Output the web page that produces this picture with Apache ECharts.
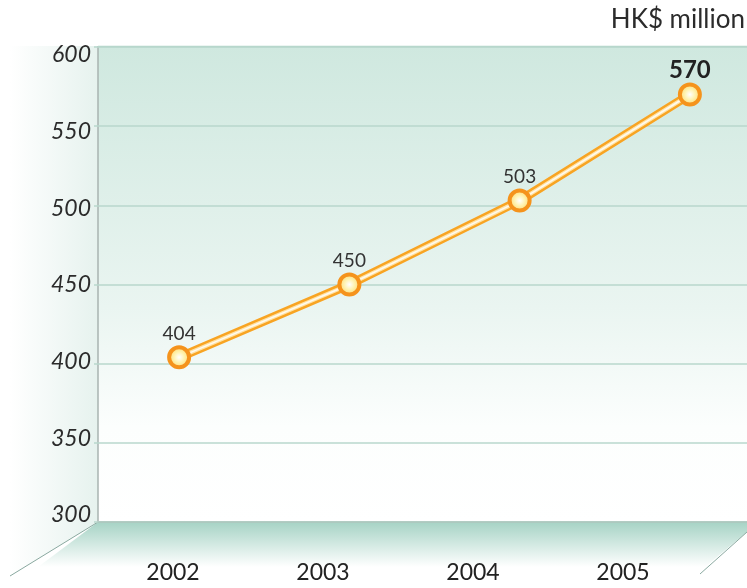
<!DOCTYPE html>
<html>
<head>
<meta charset="utf-8">
<script src="https://cdn.jsdelivr.net/npm/echarts@6/dist/echarts.min.js"></script>
<style>
html,body{margin:0;padding:0;background:#fff;}
#main{width:747px;height:588px;}
</style>
</head>
<body>
<div id="main"></div>
<script>
// data
var years = ['2002', '2003', '2004', '2005'];
var revenue = [404, 450, 503, 570];
var yTicks = [300, 350, 400, 450, 500, 550, 600];

var myChart = echarts.init(document.getElementById('main'));

var fontFam = 'Lato, "Open Sans", sans-serif';

var option = {
    backgroundColor: '#fff',
    animation: false,
    graphic: [
        // plot wall
        {
            type: 'rect', z: -20,
            shape: { x: 98, y: 46, width: 649, height: 476 },
            style: {
                fill: new echarts.graphic.LinearGradient(0, 0, 0, 1, [
                    { offset: 0, color: '#cfe8df' },
                    { offset: 0.55, color: '#eaf5f1' },
                    { offset: 0.8, color: '#fcfefd' },
                    { offset: 1, color: '#ffffff' }
                ])
            }
        },
        // left wall
        {
            type: 'polygon', z: -10,
            shape: { points: [[12, 46], [98, 46], [98, 522], [10, 576], [10, 46]] },
            style: {
                fill: new echarts.graphic.LinearGradient(0, 0, 1, 0, [
                    { offset: 0, color: '#ffffff' },
                    { offset: 1, color: '#e6f2ee' }
                ])
            }
        },
        // floor
        {
            type: 'polygon', z: -10,
            shape: { points: [[98, 522], [747, 522], [747, 532], [705, 567], [38, 567]] },
            style: {
                fill: new echarts.graphic.LinearGradient(0, 0, 0, 1, [
                    { offset: 0, color: '#a6d3c5' },
                    { offset: 1, color: '#ffffff' }
                ])
            }
        },
        { type: 'line', z: -5, shape: { x1: 98, y1: 522, x2: 10, y2: 576 }, style: { stroke: '#8aa9a0', lineWidth: 1 } },
        { type: 'line', z: -5, shape: { x1: 747, y1: 532, x2: 700, y2: 574 }, style: { stroke: '#8aa9a0', lineWidth: 1 } },
        { type: 'line', z: -5, shape: { x1: 98, y1: 522, x2: 747, y2: 522 }, style: { stroke: '#7f8f8a', lineWidth: 1.5 } },
        { type: 'line', z: -5, shape: { x1: 98, y1: 46, x2: 98, y2: 522 }, style: { stroke: '#a9b3b0', lineWidth: 1.5 } },
        { type: 'line', z: -5, shape: { x1: 98, y1: 46.5, x2: 747, y2: 46.5 }, style: { stroke: '#b3d6cb', lineWidth: 1.5 } },
        {
            type: 'text', right: 2, top: 7,
            style: { text: 'HK$ million', fontSize: 26, fontFamily: fontFam, fill: '#2b2b2b' }
        }
    ],
    grid: [
        { left: 94, width: 681, top: 47, height: 475, outerBoundsMode: 'none', containLabel: false },
        { left: 98, width: 600, top: 55, height: 460, outerBoundsMode: 'none' }
    ],
    xAxis: [
        {
            type: 'category', gridIndex: 0, data: years,
            axisLine: { show: false }, axisTick: { show: false }, axisLabel: { show: false }
        },
        {
            type: 'category', gridIndex: 1, data: years,
            axisLine: { show: false }, axisTick: { show: false },
            axisLabel: { margin: 46, fontSize: 23, fontFamily: fontFam, color: '#222' }
        }
    ],
    yAxis: [
        {
            type: 'value', gridIndex: 0, min: 300, max: 600, interval: 50,
            axisLine: { show: false }, axisTick: { show: false }, axisLabel: { show: false },
            splitLine: { lineStyle: { color: '#b9d7cd', width: 1.5 } }
        },
        {
            type: 'value', gridIndex: 1, min: yTicks[0], max: yTicks[yTicks.length - 1], interval: 50,
            axisLine: { show: false }, axisTick: { show: false }, splitLine: { show: false },
            axisLabel: {
                margin: 7, fontSize: 23, fontStyle: 'italic', fontFamily: fontFam, color: '#2b2b2b'
            }
        }
    ],
    series: [
        {
            type: 'line', xAxisIndex: 0, yAxisIndex: 0, data: revenue,
            symbol: 'none', z: 2,
            lineStyle: { color: '#f8a423', width: 9 }
        },
        {
            type: 'line', xAxisIndex: 0, yAxisIndex: 0, data: revenue,
            symbol: 'none', z: 3,
            lineStyle: { color: '#ffe3a6', width: 4 }
        },
        {
            type: 'line', xAxisIndex: 0, yAxisIndex: 0,
            symbol: 'circle', symbolSize: 20, z: 4,
            lineStyle: { color: '#fffaf0', width: 1.5 },
            itemStyle: {
                color: new echarts.graphic.RadialGradient(0.5, 0.5, 0.5, [
                    { offset: 0, color: '#ffffff' },
                    { offset: 0.45, color: '#fff2ad' },
                    { offset: 1, color: '#fbd266' }
                ]),
                borderColor: '#f5931c', borderWidth: 4
            },
            label: {
                show: true, position: 'top', distance: 2,
                fontSize: 19, fontFamily: fontFam, color: '#333',
                formatter: function (p) { return p.value; }
            },
            data: revenue.map(function (v, i) {
                if (i === revenue.length - 1) {
                    return { value: v, label: { fontSize: 24, fontWeight: 'bold', color: '#222', distance: 0 } };
                }
                return v;
            })
        }
    ]
};

myChart.setOption(option);
</script>
</body>
</html>
